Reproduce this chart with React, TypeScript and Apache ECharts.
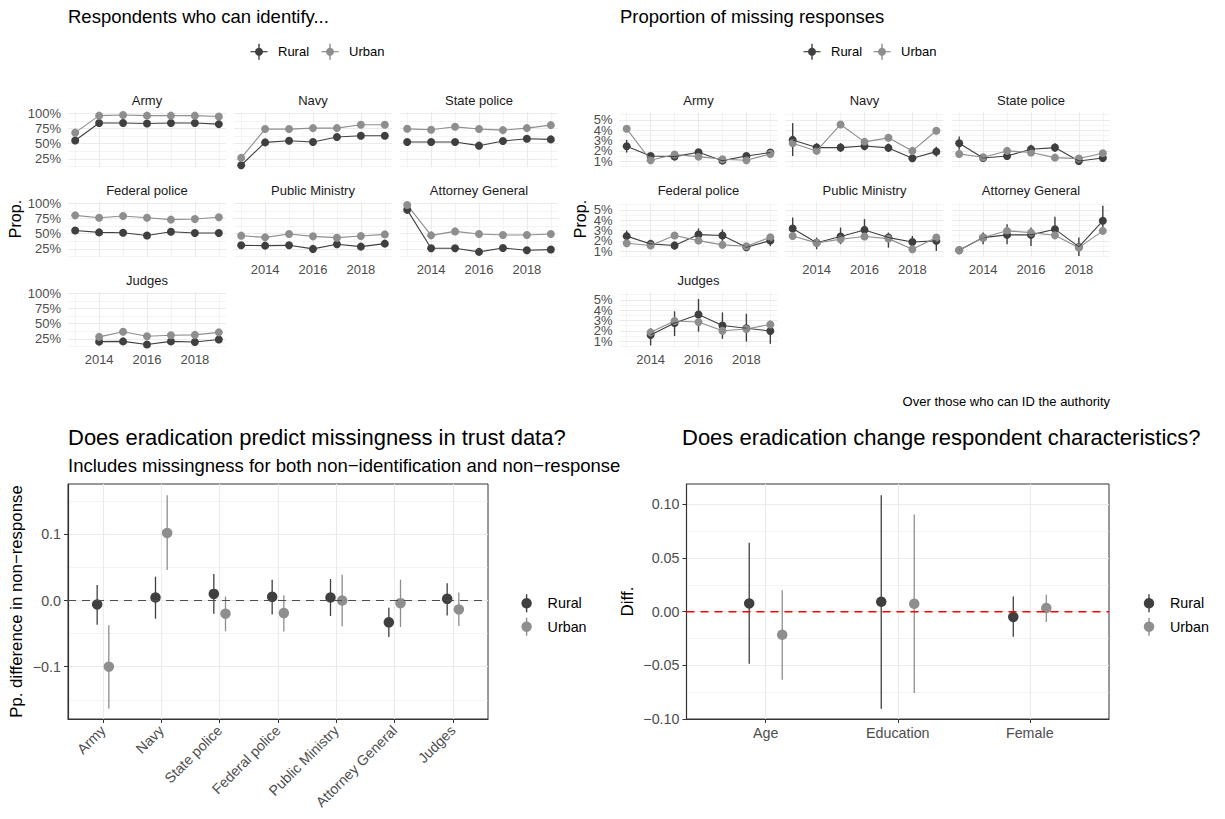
import React, { useEffect, useRef } from "react";
import * as echarts from "echarts";

// ---------------- data ----------------
const YEARS = [2013, 2014, 2015, 2016, 2017, 2018, 2019];
const AUTHORITIES = ["Army", "Navy", "State police", "Federal police", "Public Ministry", "Attorney General", "Judges"];
const GROUPS = ["Rural", "Urban"];

// Share of respondents who can identify each authority
const ID_ARMY_RURAL = [0.55, 0.84, 0.84, 0.83, 0.84, 0.84, 0.82];
const ID_ARMY_URBAN = [0.68, 0.96, 0.97, 0.96, 0.96, 0.96, 0.945];
const ID_NAVY_RURAL = [0.144, 0.52, 0.547, 0.526, 0.608, 0.629, 0.629];
const ID_NAVY_URBAN = [0.265, 0.739, 0.739, 0.755, 0.755, 0.809, 0.809];
const ID_STATE_RURAL = [0.526, 0.526, 0.526, 0.466, 0.542, 0.58, 0.569];
const ID_STATE_URBAN = [0.743, 0.727, 0.776, 0.739, 0.722, 0.755, 0.804];
const ID_FEDERAL_RURAL = [0.55, 0.52, 0.515, 0.47, 0.53, 0.51, 0.51];
const ID_FEDERAL_URBAN = [0.8, 0.76, 0.79, 0.76, 0.73, 0.74, 0.77];
const ID_MINISTRY_RURAL = [0.307, 0.302, 0.307, 0.248, 0.324, 0.286, 0.335];
const ID_MINISTRY_URBAN = [0.466, 0.438, 0.493, 0.455, 0.433, 0.46, 0.487];
const ID_ATTORNEY_RURAL = [0.891, 0.258, 0.258, 0.199, 0.264, 0.226, 0.237];
const ID_ATTORNEY_URBAN = [0.972, 0.471, 0.536, 0.493, 0.477, 0.477, 0.493];
const ID_JUDGES_RURAL = [null, 0.203, 0.207, 0.155, 0.207, 0.196, 0.239];
const ID_JUDGES_URBAN = [null, 0.282, 0.367, 0.292, 0.308, 0.314, 0.356];

// Proportion of missing responses: [estimate, lower, upper]
type Tri = [number, number, number] | null;
const MISS_ARMY_RURAL: Tri[] = [[0.0245, 0.0184, 0.0306], [0.0151, 0.0127, 0.0176], [0.0145, 0.012, 0.017], [0.0187, 0.016, 0.0215], [0.0106, 0.0085, 0.013], [0.0151, 0.0127, 0.0176], [0.0184, 0.0158, 0.0212]];
const MISS_ARMY_URBAN: Tri[] = [[0.0413, 0.039, 0.0436], [0.011, 0.0095, 0.0125], [0.0166, 0.015, 0.0182], [0.0145, 0.013, 0.016], [0.012, 0.0105, 0.0135], [0.011, 0.0095, 0.0125], [0.0171, 0.0155, 0.0187]];
const MISS_NAVY_RURAL: Tri[] = [[0.0306, 0.0151, 0.0468], [0.0232, 0.019, 0.0275], [0.0232, 0.019, 0.0275], [0.0248, 0.0205, 0.029], [0.0229, 0.019, 0.027], [0.0129, 0.0095, 0.0165], [0.0193, 0.0145, 0.024]];
const MISS_NAVY_URBAN: Tri[] = [[0.0274, 0.0245, 0.0303], [0.02, 0.0175, 0.0225], [0.0455, 0.0425, 0.0485], [0.0287, 0.026, 0.0314], [0.0326, 0.0298, 0.0354], [0.02, 0.0175, 0.0225], [0.0394, 0.0365, 0.0423]];
const MISS_STATE_RURAL: Tri[] = [[0.0274, 0.021, 0.034], [0.0132, 0.0105, 0.016], [0.0151, 0.012, 0.018], [0.0216, 0.017, 0.026], [0.0232, 0.019, 0.0275], [0.0103, 0.008, 0.0125], [0.0132, 0.0105, 0.016]];
const MISS_STATE_URBAN: Tri[] = [[0.0171, 0.0152, 0.019], [0.0139, 0.012, 0.0158], [0.02, 0.018, 0.022], [0.0184, 0.0165, 0.0203], [0.0135, 0.0117, 0.0153], [0.0126, 0.0108, 0.0144], [0.0177, 0.0158, 0.0196]];
const MISS_FEDERAL_RURAL: Tri[] = [[0.0246, 0.019, 0.03], [0.0171, 0.013, 0.021], [0.0155, 0.0115, 0.0195], [0.0261, 0.02, 0.032], [0.0252, 0.0195, 0.031], [0.0139, 0.0105, 0.0175], [0.0203, 0.015, 0.026]];
const MISS_FEDERAL_URBAN: Tri[] = [[0.0178, 0.0155, 0.0201], [0.0155, 0.0133, 0.0177], [0.0252, 0.0227, 0.0277], [0.0203, 0.018, 0.0226], [0.0162, 0.014, 0.0184], [0.0149, 0.0127, 0.0171], [0.0236, 0.0211, 0.0261]];
const MISS_MINISTRY_RURAL: Tri[] = [[0.0319, 0.0232, 0.0425], [0.0183, 0.012, 0.0232], [0.0242, 0.0168, 0.0329], [0.0306, 0.0232, 0.041], [0.0232, 0.0135, 0.028], [0.019, 0.012, 0.0248], [0.02, 0.0103, 0.0265]];
const MISS_MINISTRY_URBAN: Tri[] = [[0.0248, 0.022, 0.0276], [0.0181, 0.0155, 0.0207], [0.0216, 0.0188, 0.0244], [0.0242, 0.0214, 0.027], [0.0222, 0.0194, 0.025], [0.012, 0.0098, 0.0142], [0.0232, 0.0204, 0.026]];
const MISS_ATTORNEY_RURAL: Tri[] = [[0.011, 0.009, 0.013], [0.0232, 0.0168, 0.028], [0.0258, 0.0168, 0.0361], [0.0258, 0.0151, 0.0329], [0.0313, 0.0216, 0.0432], [0.0142, 0.0055, 0.0232], [0.0394, 0.0313, 0.0539]];
const MISS_ATTORNEY_URBAN: Tri[] = [[0.011, 0.0092, 0.0128], [0.0232, 0.0204, 0.026], [0.0297, 0.0267, 0.0327], [0.028, 0.025, 0.031], [0.0255, 0.0226, 0.0284], [0.0135, 0.0113, 0.0157], [0.0297, 0.0267, 0.0327]];
const MISS_JUDGES_RURAL: Tri[] = [null, [0.016, 0.006, 0.0226], [0.0276, 0.015, 0.0389], [0.0358, 0.0193, 0.0507], [0.0252, 0.0124, 0.0378], [0.0226, 0.0097, 0.0365], [0.0199, 0.0075, 0.029]];
const MISS_JUDGES_URBAN: Tri[] = [null, [0.0186, 0.0146, 0.0226], [0.0296, 0.0256, 0.0336], [0.0286, 0.0246, 0.0326], [0.0202, 0.0162, 0.0242], [0.0219, 0.0179, 0.0259], [0.0262, 0.0222, 0.0302]];

// Does eradication predict missingness (pp. difference in non-response)
const NR_RURAL = [-0.006, 0.0045, 0.01, 0.0055, 0.0045, -0.033, 0.0025];
const NR_RURAL_LO = [-0.0365, -0.0275, -0.02, -0.021, -0.0235, -0.055, -0.0225];
const NR_RURAL_HI = [0.0235, 0.036, 0.04, 0.0315, 0.0325, -0.011, 0.026];
const NR_URBAN = [-0.1, 0.102, -0.02, -0.019, 0.0, -0.004, -0.0135];
const NR_URBAN_LO = [-0.163, 0.046, -0.0465, -0.047, -0.039, -0.04, -0.0385];
const NR_URBAN_HI = [-0.0375, 0.159, 0.006, 0.008, 0.039, 0.0315, 0.012];

// Does eradication change respondent characteristics
const CHAR_VARS = ["Age", "Education", "Female"];
const CH_RURAL = [0.0077, 0.0092, -0.0049];
const CH_RURAL_LO = [-0.0486, -0.0905, -0.0234];
const CH_RURAL_HI = [0.0643, 0.1086, 0.0142];
const CH_URBAN = [-0.0215, 0.0074, 0.0034];
const CH_URBAN_LO = [-0.0634, -0.0757, -0.0095];
const CH_URBAN_HI = [0.02, 0.0905, 0.0157];

// tick values
const YEAR_MAJOR = [2014, 2016, 2018];
const YEAR_MINOR = [2013, 2015, 2017, 2019];
const ID_MAJOR = [0.25, 0.5, 0.75, 1.0];
const ID_MINOR = [0.125, 0.375, 0.625, 0.875];
const MISS_MAJOR = [0.01, 0.02, 0.03, 0.04, 0.05];
const MISS_MINOR = [0.005, 0.015, 0.025, 0.035, 0.045, 0.055];
const NR_MAJOR = [-0.1, 0, 0.1];
const NR_MINOR = [-0.15, -0.05, 0.05, 0.15];
const CH_MAJOR = [-0.1, -0.05, 0, 0.05, 0.1];
const CH_MINOR = [-0.075, -0.025, 0.025, 0.075];

// ---------------- style ----------------
const FONT = '"Liberation Sans", Arial, Helvetica, sans-serif';
const COLORS = ["#3f3f3f", "#8e8e8e"];
const GRID = "#ebebeb";
const TICK_TXT = "#4d4d4d";

const ID_SETS = [
  [ID_ARMY_RURAL, ID_ARMY_URBAN], [ID_NAVY_RURAL, ID_NAVY_URBAN], [ID_STATE_RURAL, ID_STATE_URBAN],
  [ID_FEDERAL_RURAL, ID_FEDERAL_URBAN], [ID_MINISTRY_RURAL, ID_MINISTRY_URBAN],
  [ID_ATTORNEY_RURAL, ID_ATTORNEY_URBAN], [ID_JUDGES_RURAL, ID_JUDGES_URBAN],
];
const MISS_SETS = [
  [MISS_ARMY_RURAL, MISS_ARMY_URBAN], [MISS_NAVY_RURAL, MISS_NAVY_URBAN], [MISS_STATE_RURAL, MISS_STATE_URBAN],
  [MISS_FEDERAL_RURAL, MISS_FEDERAL_URBAN], [MISS_MINISTRY_RURAL, MISS_MINISTRY_URBAN],
  [MISS_ATTORNEY_RURAL, MISS_ATTORNEY_URBAN], [MISS_JUDGES_RURAL, MISS_JUDGES_URBAN],
];

function buildOption() {
  const grid: any[] = [];
  const xAxis: any[] = [];
  const yAxis: any[] = [];
  const series: any[] = [];
  const graphic: any[] = [];

  const txt = (text: string, x: number, y: number, size: number, color: string, align = "left", rotation = 0) => ({
    type: "text", x, y, rotation, silent: true, z: 100,
    style: { text, fill: color, fontSize: size, fontFamily: FONT, align, verticalAlign: "middle", textAlign: align, textVerticalAlign: "middle" },
  });

  const addPanel = (p: any) => {
    const g = grid.length;
    grid.push({
      left: p.left, top: p.top, width: p.width, height: p.height, containLabel: false,
      show: !!p.framed, borderColor: "#333333", borderWidth: 1, backgroundColor: p.framed ? "#ffffff" : "transparent",
    });
    const lbl = { fontFamily: FONT, fontSize: p.tickSize, color: TICK_TXT, showMinLabel: true, showMaxLabel: true, hideOverlap: false };
    // y labels may be split across two axes so that tightly packed labels are all drawn
    const yLabA = p.yLabelsA || p.yMajor;
    const yLabB = p.yLabelsB || [];
    xAxis.push({
      type: "value", gridIndex: g, min: p.xMin, max: p.xMax, position: "bottom",
      axisLine: { show: !!p.framed, onZero: false, lineStyle: { color: "#333333", width: 1.2 } },
      axisTick: { show: !!p.framed, customValues: p.xMajor, length: 4, lineStyle: { color: "#333333", width: 1 } },
      axisLabel: { show: p.showX, customValues: p.xMajor, formatter: p.xFmt, margin: p.xMargin, rotate: p.xRotate || 0, ...lbl },
      splitLine: { show: true, lineStyle: { color: GRID, width: 1.1 } },
    });
    xAxis.push({
      type: "value", gridIndex: g, min: p.xMin, max: p.xMax, position: "top",
      axisLine: { show: false, onZero: false }, axisTick: { show: false, customValues: p.xMinor },
      axisLabel: { show: false, customValues: p.xMinor },
      splitLine: { show: p.xMinor.length > 0, lineStyle: { color: GRID, width: 0.55 } },
    });
    yAxis.push({
      type: "value", gridIndex: g, min: p.yMin, max: p.yMax, position: "left",
      axisLine: { show: !!p.framed, onZero: false, lineStyle: { color: "#333333", width: 1.2 } },
      axisTick: { show: !!p.framed, customValues: p.yMajor, length: 4, lineStyle: { color: "#333333", width: 1 } },
      axisLabel: { show: p.showY, customValues: yLabA, formatter: p.yFmt, margin: p.yMargin, ...lbl },
      splitLine: { show: true, lineStyle: { color: GRID, width: 1.1 } },
    });
    yAxis.push({
      type: "value", gridIndex: g, min: p.yMin, max: p.yMax, position: "left",
      axisLine: { show: false, onZero: false }, axisTick: { show: false, customValues: p.yMinor },
      axisLabel: { show: p.showY && yLabB.length > 0, customValues: yLabB.length ? yLabB : p.yMinor, formatter: p.yFmt, margin: p.yMargin, ...lbl },
      splitLine: { show: true, lineStyle: { color: GRID, width: 0.55 } },
    });
    return g;
  };

  const errorBars = (g: number, data: number[][], color: string, width: number) => ({
    type: "custom", xAxisIndex: 2 * g, yAxisIndex: 2 * g, silent: true, clip: false,
    data, encode: { x: 0, y: [1, 2] },
    renderItem: (_params: any, api: any) => {
      const a = api.coord([api.value(0), api.value(1)]);
      const b = api.coord([api.value(0), api.value(2)]);
      return { type: "line", shape: { x1: a[0], y1: a[1], x2: b[0], y2: b[1] }, style: { stroke: color, lineWidth: width } };
    },
  });

  const linePts = (g: number, data: number[][], color: string, withLine: boolean, size: number) => ({
    type: withLine ? "line" : "scatter", xAxisIndex: 2 * g, yAxisIndex: 2 * g, silent: true,
    data, symbol: "circle", symbolSize: size, showSymbol: true,
    lineStyle: { color, width: 1.1 }, itemStyle: { color, opacity: 1 },
  });

  const refLine = (g: number, x0: number, x1: number, color: string, width: number) => ({
    type: "line", xAxisIndex: 2 * g, yAxisIndex: 2 * g, silent: true, symbol: "none", showSymbol: false,
    data: [[x0, 0], [x1, 0]], lineStyle: { color, width, type: [8, 6] }, itemStyle: { color },
  });

  // ---------- top facets ----------
  const ROWS_TOP = [112, 202, 292];
  const PH = 55.3;
  const PW = 158;
  const LEFT_COLS = [68, 234, 400];
  const RIGHT_COLS = [619.5, 785.5, 952];
  const yearFmt = (v: number) => String(Math.round(v));
  const pctFmt = (v: number) => Math.round(v * 100) + "%";

  AUTHORITIES.forEach((name, i) => {
    const row = Math.floor(i / 3);
    const col = i % 3;
    const showX = i >= 4;
    const showY = col === 0;
    // identification panel
    const gL = addPanel({
      left: LEFT_COLS[col], top: ROWS_TOP[row], width: PW, height: PH, framed: false, tickSize: 13,
      xMin: 2012.7, xMax: 2019.3, xMajor: YEAR_MAJOR, xMinor: YEAR_MINOR, xFmt: yearFmt, xMargin: 6, showX,
      yMin: 0.11, yMax: 1.02, yMajor: ID_MAJOR, yMinor: ID_MINOR, yFmt: pctFmt, yMargin: 7, showY,
      yLabelsA: ID_MAJOR.filter((_, j) => j % 2 === 0), yLabelsB: ID_MAJOR.filter((_, j) => j % 2 === 1),
    });
    graphic.push(txt(name, LEFT_COLS[col] + PW / 2, ROWS_TOP[row] - 12, 13, "#1a1a1a", "center"));
    ID_SETS[i].forEach((vals, k) => {
      const d = YEARS.map((yr, j) => (vals[j] == null ? null : [yr, vals[j] as number])).filter(Boolean) as number[][];
      series.push({ ...linePts(gL, d, COLORS[k], true, 8) });
    });
    // missingness panel
    const gR = addPanel({
      left: RIGHT_COLS[col], top: ROWS_TOP[row], width: PW, height: PH, framed: false, tickSize: 13,
      xMin: 2012.7, xMax: 2019.3, xMajor: YEAR_MAJOR, xMinor: YEAR_MINOR, xFmt: yearFmt, xMargin: 6, showX,
      yMin: 0.0042, yMax: 0.0575, yMajor: MISS_MAJOR, yMinor: MISS_MINOR, yFmt: pctFmt, yMargin: 7, showY,
      yLabelsA: MISS_MAJOR.filter((_, j) => j % 2 === 0), yLabelsB: MISS_MAJOR.filter((_, j) => j % 2 === 1),
    });
    graphic.push(txt(name, RIGHT_COLS[col] + PW / 2, ROWS_TOP[row] - 12, 13, "#1a1a1a", "center"));
    const sets = MISS_SETS[i];
    sets.forEach((tris, k) => {
      const d = YEARS.map((yr, j) => (tris[j] ? [yr, tris[j]![0]] : null)).filter(Boolean) as number[][];
      series.push({ ...linePts(gR, d, COLORS[k], true, 0), symbol: "none", showSymbol: false });
    });
    sets.forEach((tris, k) => {
      const bars = YEARS.map((yr, j) => (tris[j] ? [yr, tris[j]![1], tris[j]![2]] : null)).filter(Boolean) as number[][];
      const pts = YEARS.map((yr, j) => (tris[j] ? [yr, tris[j]![0]] : null)).filter(Boolean) as number[][];
      series.push(errorBars(gR, bars, COLORS[k], 1.4));
      series.push(linePts(gR, pts, COLORS[k], false, 8));
    });
  });

  // ---------- bottom left ----------
  const B1_MIN = 0.4;
  const B1_MAX = AUTHORITIES.length + 0.6;
  const gB1 = addPanel({
    left: 68, top: 484, width: 420, height: 235, framed: true, tickSize: 14.3,
    xMin: B1_MIN, xMax: B1_MAX, xMajor: AUTHORITIES.map((_, i) => i + 1), xMinor: [],
    xFmt: (v: number) => AUTHORITIES[Math.round(v) - 1] || "", xMargin: 9, xRotate: 45, showX: true,
    yMin: -0.179, yMax: 0.176, yMajor: NR_MAJOR, yMinor: NR_MINOR,
    yFmt: (v: number) => (v < -1e-9 ? "\u2212" : "") + Math.abs(v).toFixed(1), yMargin: 7, showY: true,
  });
  series.push(refLine(gB1, B1_MIN, B1_MAX, "#4d4d4d", 1.15));
  const NR_SETS = [[NR_RURAL, NR_RURAL_LO, NR_RURAL_HI], [NR_URBAN, NR_URBAN_LO, NR_URBAN_HI]];
  NR_SETS.forEach(([v, lo, hi], k) => {
    const off = k === 0 ? -0.1 : 0.1;
    series.push(errorBars(gB1, v.map((_, i) => [i + 1 + off, lo[i], hi[i]]), COLORS[k], 1.3));
    series.push(linePts(gB1, v.map((val, i) => [i + 1 + off, val]), COLORS[k], false, 10.5));
  });

  // ---------- bottom right ----------
  const B2_MIN = 0.4;
  const B2_MAX = CHAR_VARS.length + 0.6;
  const gB2 = addPanel({
    left: 686.5, top: 484, width: 422.5, height: 235, framed: true, tickSize: 14.3,
    xMin: B2_MIN, xMax: B2_MAX, xMajor: CHAR_VARS.map((_, i) => i + 1), xMinor: [],
    xFmt: (v: number) => CHAR_VARS[Math.round(v) - 1] || "", xMargin: 7, showX: true,
    yMin: -0.1, yMax: 0.119, yMajor: CH_MAJOR, yMinor: CH_MINOR,
    yFmt: (v: number) => (v < -1e-9 ? "\u2212" : "") + Math.abs(v).toFixed(2), yMargin: 7, showY: true,
  });
  series.push(refLine(gB2, B2_MIN, B2_MAX, "#ff0000", 1.4));
  const CH_SETS = [[CH_RURAL, CH_RURAL_LO, CH_RURAL_HI], [CH_URBAN, CH_URBAN_LO, CH_URBAN_HI]];
  CH_SETS.forEach(([v, lo, hi], k) => {
    const off = k === 0 ? -0.125 : 0.125;
    series.push(errorBars(gB2, v.map((_, i) => [i + 1 + off, lo[i], hi[i]]), COLORS[k], 1.3));
    series.push(linePts(gB2, v.map((val, i) => [i + 1 + off, val]), COLORS[k], false, 10.5));
  });

  // ---------- texts ----------
  graphic.push(txt("Respondents who can identify...", 68, 16, 18.5, "#000000"));
  graphic.push(txt("Proportion of missing responses", 620, 16, 18.5, "#000000"));
  graphic.push(txt("Prop.", 15, 219, 16, "#000000", "center", Math.PI / 2));
  graphic.push(txt("Prop.", 580.5, 219, 16, "#000000", "center", Math.PI / 2));
  graphic.push(txt("Over those who can ID the authority", 1110, 401, 13, "#000000", "right"));
  graphic.push(txt("Does eradication predict missingness in trust data?", 68, 437, 22, "#000000"));
  graphic.push(txt("Includes missingness for both non\u2212identification and non\u2212response", 68, 465, 18.5, "#000000"));
  graphic.push(txt("Does eradication change respondent characteristics?", 682, 437, 22, "#000000"));
  graphic.push(txt("Pp. difference in non\u2212response", 16, 601.5, 16.8, "#000000", "center", Math.PI / 2));
  graphic.push(txt("Diff.", 627, 601.5, 17, "#000000", "center", Math.PI / 2));

  // legends
  const glyph = (cx: number, cy: number, color: string, r: number, v: number, h: number) => {
    const els: any[] = [
      { type: "line", silent: true, z: 100, shape: { x1: cx, y1: cy - v / 2, x2: cx, y2: cy + v / 2 }, style: { stroke: color, lineWidth: 1.4 } },
    ];
    if (h > 0) els.push({ type: "line", silent: true, z: 100, shape: { x1: cx - h / 2, y1: cy, x2: cx + h / 2, y2: cy }, style: { stroke: color, lineWidth: 1.2 } });
    els.push({ type: "circle", silent: true, z: 101, shape: { cx, cy, r }, style: { fill: color } });
    return els;
  };
  const topLegend = (x0: number, x1: number) => {
    GROUPS.forEach((name, k) => {
      const gx = k === 0 ? x0 : x1;
      glyph(gx, 51.7, COLORS[k], 4, 16, 17).forEach((e) => graphic.push(e));
      graphic.push(txt(name, gx + 19, 51.7, 13, "#000000"));
    });
  };
  topLegend(259, 330);
  topLegend(812, 882);
  const sideLegend = (gx: number) => {
    GROUPS.forEach((name, k) => {
      const gy = k === 0 ? 603.3 : 626.7;
      glyph(gx, gy, COLORS[k], 5.2, 18, 0).forEach((e) => graphic.push(e));
      graphic.push(txt(name, gx + 21, gy, 14.3, "#000000"));
    });
  };
  sideLegend(526.6);
  sideLegend(1149);

  return {
    animation: false,
    backgroundColor: "#ffffff",
    textStyle: { fontFamily: FONT },
    grid, xAxis, yAxis, series, graphic,
  };
}

export default function App() {
  const ref = useRef<HTMLDivElement>(null);
  useEffect(() => {
    if (!ref.current) return;
    const chart = echarts.init(ref.current, null, { renderer: "svg" });
    chart.setOption(buildOption() as any);
    return () => chart.dispose();
  }, []);
  return (
    <div
      ref={ref}
      style={{ position: "absolute", left: 0, top: 0, width: 1225, height: 819, background: "#ffffff" }}
    />
  );
}
